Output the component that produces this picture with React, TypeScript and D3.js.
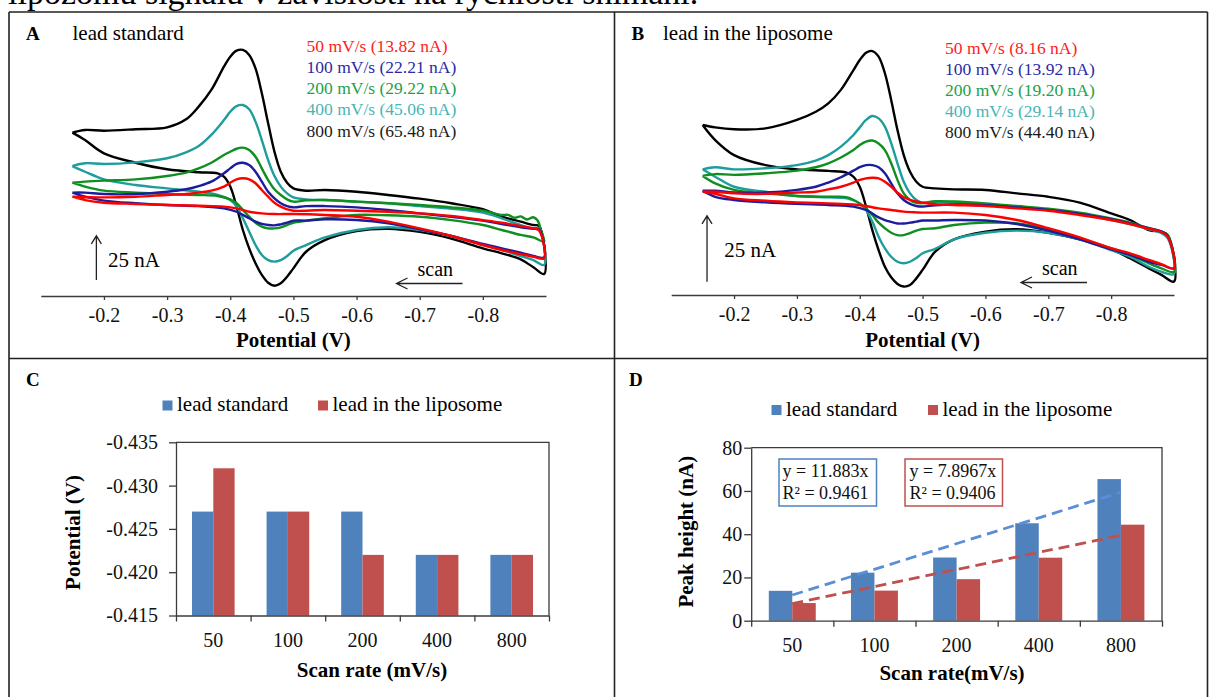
import { useRef, useEffect } from 'react';
import * as d3 from 'd3';

const SERIF = '"Liberation Serif", "Times New Roman", serif';

// scan rates and peak data (panels C and D)
const scanRates = ['50', '100', '200', '400', '800'];
const peakPotentialStd = [-0.427, -0.427, -0.427, -0.422, -0.422];
const peakPotentialLipo = [-0.432, -0.427, -0.422, -0.422, -0.422];
const peakHeightStd = [13.82, 22.21, 29.22, 45.06, 65.48];
const peakHeightLipo = [8.16, 13.92, 19.2, 29.14, 44.4];
const trendSlopes = [11.883, 7.8967];
const trendR2 = [0.9461, 0.9406];
const potentialTicks = [-0.435, -0.43, -0.425, -0.42, -0.415];
const heightTicks = [0, 20, 40, 60, 80];
const cvTicks = [-0.2, -0.3, -0.4, -0.5, -0.6, -0.7, -0.8];

const curveColors = ['#ff0000', '#1c1c9c', '#0f8f1f', '#1f9c9c', '#000000'];
const legendColors = ['#ff2020', '#2a2aa6', '#21a14b', '#49b5b5', '#1a1a1a'];
const barColors = ['#4f81bd', '#c0504d'];

// cyclic voltammograms, [potential V, current nA], lower branch then upper branch
const cvA50 = [[-0.15,56.1],[-0.17,54.2],[-0.2,52.7],[-0.25,52.0],[-0.3,51.4],[-0.35,51.0],[-0.39,50.5],[-0.41,49.5],[-0.42,48.6],[-0.43,47.6],[-0.45,46.7],[-0.47,46.3],[-0.5,46.3],[-0.55,45.8],[-0.6,44.8],[-0.65,42.0],[-0.7,38.2],[-0.75,33.9],[-0.8,28.8],[-0.83,26.0],[-0.86,23.7],[-0.88,22.2],[-0.897,21.3],
  [-0.889,37],[-0.88,38.2],[-0.86,39.5],[-0.83,41.4],[-0.8,42.9],[-0.75,45.2],[-0.7,46.7],[-0.65,47.6],[-0.6,48.2],[-0.55,48.6],[-0.5,48.2],[-0.49,49.0],[-0.48,50.5],[-0.47,52.7],[-0.46,56.1],[-0.45,59.9],[-0.44,63.7],[-0.43,65.9],[-0.42,66.5],[-0.41,65.9],[-0.4,64.0],[-0.39,61.8],[-0.37,59.5],[-0.35,58.4],[-0.33,57.6],[-0.3,57.1],[-0.25,56.1],[-0.2,55.7],[-0.15,56.1]];
const cvA100 = [[-0.15,58.4],[-0.17,56.1],[-0.2,53.9],[-0.25,52.4],[-0.3,51.4],[-0.35,50.8],[-0.39,49.5],[-0.41,47.6],[-0.42,45.8],[-0.43,43.9],[-0.44,42.0],[-0.45,40.7],[-0.46,40.1],[-0.47,39.9],[-0.48,40.5],[-0.49,41.4],[-0.5,42.6],[-0.52,42.6],[-0.55,43.3],[-0.6,42.9],[-0.65,41.1],[-0.7,37.7],[-0.75,33.9],[-0.8,29.4],[-0.83,26.9],[-0.86,24.5],[-0.88,22.6],[-0.897,21.8],
  [-0.889,37.5],[-0.88,38.0],[-0.86,38.8],[-0.83,40.7],[-0.8,42.6],[-0.75,44.8],[-0.7,46.7],[-0.65,48.6],[-0.6,50.1],[-0.55,50.8],[-0.52,50.8],[-0.5,50.1],[-0.49,50.8],[-0.48,52.4],[-0.47,55.2],[-0.46,58.9],[-0.45,64.6],[-0.44,70.2],[-0.43,74.0],[-0.42,75.3],[-0.41,74.6],[-0.4,72.1],[-0.39,69.3],[-0.37,64.6],[-0.35,62.1],[-0.33,60.3],[-0.3,58.9],[-0.25,57.6],[-0.2,57.6],[-0.17,58.4],[-0.15,58.4]];
const cvA200 = [[-0.15,64.0],[-0.17,61.8],[-0.2,59.5],[-0.25,58.4],[-0.3,57.6],[-0.35,57.1],[-0.38,56.5],[-0.4,54.6],[-0.41,52.4],[-0.42,48.6],[-0.43,44.8],[-0.44,41.4],[-0.45,39.2],[-0.46,38.2],[-0.47,38.2],[-0.48,38.8],[-0.49,40.1],[-0.5,41.4],[-0.52,42.5],[-0.55,43.9],[-0.6,45.8],[-0.65,45.6],[-0.7,44.8],[-0.75,42.9],[-0.8,40.1],[-0.83,37.3],[-0.86,34.5],[-0.88,33.1],[-0.897,30.7],
  [-0.892,37],[-0.887,42.5],[-0.88,44.5],[-0.87,43.2],[-0.86,45.0],[-0.85,44.2],[-0.84,45.8],[-0.83,45.8],[-0.8,48.2],[-0.75,50.1],[-0.7,51.4],[-0.65,52.4],[-0.6,53.3],[-0.55,54.2],[-0.52,54.0],[-0.5,53.3],[-0.49,54.6],[-0.48,57.1],[-0.47,60.3],[-0.46,65.5],[-0.45,72.1],[-0.44,78.7],[-0.43,82.5],[-0.42,83.8],[-0.41,83.2],[-0.4,81.5],[-0.39,79.7],[-0.37,75.3],[-0.35,72.1],[-0.33,69.7],[-0.3,67.8],[-0.25,65.9],[-0.2,65.2],[-0.17,64.6],[-0.15,64.0]];
const cvA400 = [[-0.15,73.4],[-0.17,70.2],[-0.2,65.9],[-0.25,62.7],[-0.3,60.8],[-0.35,58.9],[-0.38,57.1],[-0.4,54.2],[-0.41,50.5],[-0.42,43.9],[-0.43,36.3],[-0.44,28.8],[-0.45,23.2],[-0.46,20.3],[-0.47,19.4],[-0.48,20.3],[-0.49,22.6],[-0.5,25.6],[-0.52,28.8],[-0.55,33.1],[-0.6,37.3],[-0.65,38.8],[-0.7,37.3],[-0.75,33.9],[-0.8,28.8],[-0.83,26.0],[-0.86,22.6],[-0.88,20.3],[-0.897,17.5],
  [-0.889,38],[-0.88,38.2],[-0.86,40.1],[-0.83,43.9],[-0.8,47.1],[-0.75,49.3],[-0.7,50.8],[-0.65,52.4],[-0.6,53.3],[-0.55,54.2],[-0.52,54.6],[-0.5,55.7],[-0.49,58.0],[-0.48,61.8],[-0.47,67.8],[-0.46,76.8],[-0.45,88.1],[-0.44,98.5],[-0.43,105.5],[-0.42,107.9],[-0.41,107.3],[-0.4,104.1],[-0.39,99.4],[-0.37,91.0],[-0.35,84.7],[-0.33,81.2],[-0.3,77.8],[-0.25,75.5],[-0.2,74.6],[-0.17,75.0],[-0.15,73.4]];
const cvA800 = [[-0.15,92.3],[-0.17,88.1],[-0.2,80.6],[-0.25,75.3],[-0.3,71.6],[-0.35,69.9],[-0.38,69.3],[-0.39,67.4],[-0.4,61.8],[-0.41,50.5],[-0.42,37.3],[-0.43,26.9],[-0.44,18.5],[-0.45,11.9],[-0.46,7.5],[-0.47,5.8],[-0.48,7.2],[-0.49,10.9],[-0.5,15.6],[-0.52,25.0],[-0.55,31.6],[-0.6,36.7],[-0.65,38.0],[-0.7,36.2],[-0.75,32.4],[-0.8,26.9],[-0.83,24.1],[-0.86,20.7],[-0.88,16.2],[-0.897,12.4],
  [-0.889,39.5],[-0.88,40.1],[-0.86,42.0],[-0.83,44.8],[-0.8,49.0],[-0.75,52.4],[-0.7,55.0],[-0.65,57.1],[-0.6,58.9],[-0.55,59.9],[-0.52,59.5],[-0.5,60.8],[-0.49,64.0],[-0.48,70.2],[-0.47,81.5],[-0.46,97.6],[-0.45,114.5],[-0.44,128.6],[-0.43,136.2],[-0.42,139.0],[-0.41,138.6],[-0.4,135.2],[-0.39,129.6],[-0.37,116.4],[-0.35,107.0],[-0.33,99.8],[-0.3,95.3],[-0.25,94.2],[-0.2,93.4],[-0.17,93.8],[-0.15,92.3]];

const cvB50 = [[-0.15,39.1],[-0.17,38.3],[-0.2,36.6],[-0.25,35.7],[-0.3,35.1],[-0.35,34.7],[-0.39,34.3],[-0.41,33.7],[-0.43,32.8],[-0.45,32.2],[-0.47,31.6],[-0.49,31.3],[-0.5,31.2],[-0.55,31.2],[-0.6,30.3],[-0.65,28.4],[-0.7,25.3],[-0.75,21.8],[-0.8,17.7],[-0.83,15.8],[-0.86,13.3],[-0.88,11.7],[-0.9,10.1],
  [-0.89,22.1],[-0.88,23.9],[-0.86,25.1],[-0.83,26.9],[-0.8,28.4],[-0.75,30.3],[-0.7,31.9],[-0.65,32.8],[-0.6,33.7],[-0.55,34.1],[-0.52,34.4],[-0.5,35.0],[-0.49,35.4],[-0.48,36.0],[-0.47,37.0],[-0.46,38.8],[-0.45,41.0],[-0.44,42.9],[-0.43,44.2],[-0.42,44.4],[-0.41,44.2],[-0.4,43.6],[-0.39,42.6],[-0.37,41.0],[-0.35,40.0],[-0.33,39.1],[-0.3,38.8],[-0.25,38.3],[-0.2,38.5],[-0.17,39.1],[-0.15,39.1]];
const cvB100 = [[-0.15,39.5],[-0.17,37.2],[-0.2,36.0],[-0.25,35.1],[-0.3,34.5],[-0.35,34.1],[-0.39,33.5],[-0.41,32.2],[-0.42,30.9],[-0.43,29.4],[-0.44,28.4],[-0.45,27.7],[-0.46,27.1],[-0.47,27.1],[-0.48,27.4],[-0.49,27.8],[-0.5,28.2],[-0.52,28.2],[-0.55,28.4],[-0.6,28.2],[-0.65,26.9],[-0.7,24.4],[-0.75,21.1],[-0.8,17.3],[-0.83,15.2],[-0.86,12.6],[-0.88,11.4],[-0.9,10.1],
  [-0.89,22.3],[-0.88,24.0],[-0.86,25.3],[-0.83,27.1],[-0.8,28.7],[-0.75,30.7],[-0.7,32.2],[-0.65,33.2],[-0.6,34.0],[-0.55,34.3],[-0.52,34.0],[-0.5,33.5],[-0.49,33.7],[-0.48,34.5],[-0.47,36.0],[-0.46,38.5],[-0.45,42.3],[-0.44,46.1],[-0.43,48.4],[-0.42,49.2],[-0.41,49.2],[-0.4,48.4],[-0.39,47.1],[-0.37,44.6],[-0.35,42.6],[-0.33,41.0],[-0.3,39.8],[-0.25,38.8],[-0.2,38.8],[-0.17,39.5],[-0.15,39.5]];
const cvB200 = [[-0.15,45.1],[-0.17,42.3],[-0.2,39.8],[-0.25,38.5],[-0.3,37.5],[-0.35,37.2],[-0.38,37.0],[-0.4,34.7],[-0.41,32.8],[-0.42,30.3],[-0.43,27.4],[-0.44,25.3],[-0.45,23.6],[-0.46,22.7],[-0.47,22.7],[-0.48,23.4],[-0.49,24.4],[-0.5,25.0],[-0.52,25.3],[-0.55,26.5],[-0.6,27.4],[-0.65,27.1],[-0.7,24.9],[-0.75,21.5],[-0.8,17.7],[-0.83,15.2],[-0.86,12.0],[-0.88,10.1],[-0.9,8.8],
  [-0.89,22.7],[-0.88,24.0],[-0.86,25.3],[-0.83,27.4],[-0.8,29.0],[-0.75,31.2],[-0.7,32.7],[-0.65,33.7],[-0.6,34.7],[-0.55,35.4],[-0.52,35.5],[-0.5,34.8],[-0.49,34.9],[-0.48,36.0],[-0.47,38.5],[-0.46,43.6],[-0.45,49.9],[-0.44,54.9],[-0.43,57.4],[-0.42,58.5],[-0.41,58.1],[-0.4,56.8],[-0.39,54.9],[-0.37,52.1],[-0.35,49.9],[-0.33,48.4],[-0.3,47.1],[-0.25,46.1],[-0.2,45.5],[-0.17,45.8],[-0.15,45.1]];
const cvB400 = [[-0.15,47.6],[-0.17,44.8],[-0.2,41.0],[-0.25,39.1],[-0.3,37.5],[-0.35,37.0],[-0.38,36.6],[-0.4,34.7],[-0.41,32.2],[-0.42,27.8],[-0.43,22.1],[-0.44,17.7],[-0.45,14.5],[-0.46,12.6],[-0.47,12.0],[-0.48,12.6],[-0.49,14.0],[-0.5,15.8],[-0.52,17.5],[-0.55,21.1],[-0.6,23.6],[-0.65,24.4],[-0.7,23.6],[-0.75,21.1],[-0.8,17.0],[-0.83,14.5],[-0.86,10.7],[-0.88,8.8],[-0.9,8.0],
  [-0.89,21.5],[-0.88,23.4],[-0.86,24.9],[-0.83,26.9],[-0.8,28.4],[-0.75,30.7],[-0.7,32.2],[-0.65,33.2],[-0.6,34.3],[-0.55,35.0],[-0.52,35.2],[-0.5,34.9],[-0.49,36.0],[-0.48,38.5],[-0.47,42.9],[-0.46,49.9],[-0.45,57.5],[-0.44,63.8],[-0.43,66.9],[-0.42,67.8],[-0.41,66.3],[-0.4,63.5],[-0.39,60.6],[-0.37,56.2],[-0.35,53.0],[-0.33,50.9],[-0.3,49.2],[-0.25,48.0],[-0.2,47.6],[-0.17,48.4],[-0.15,47.6]];
const cvB800 = [[-0.15,64.4],[-0.17,58.7],[-0.2,53.0],[-0.25,49.2],[-0.3,47.6],[-0.35,47.0],[-0.38,46.3],[-0.39,44.8],[-0.4,41.0],[-0.41,33.5],[-0.42,24.6],[-0.43,17.0],[-0.44,10.7],[-0.45,6.7],[-0.46,4.2],[-0.47,3.2],[-0.48,3.8],[-0.49,6.3],[-0.5,9.5],[-0.52,16.4],[-0.55,21.1],[-0.6,24.0],[-0.65,24.9],[-0.7,23.6],[-0.75,21.1],[-0.8,17.4],[-0.83,13.9],[-0.86,10.1],[-0.88,7.6],[-0.9,5.1],
  [-0.89,22.7],[-0.88,24.0],[-0.86,24.6],[-0.83,28.4],[-0.8,30.9],[-0.75,35.0],[-0.7,37.2],[-0.65,38.5],[-0.6,39.8],[-0.55,40.0],[-0.52,40.4],[-0.5,41.0],[-0.49,42.9],[-0.48,46.7],[-0.47,53.0],[-0.46,62.5],[-0.45,73.9],[-0.44,84.0],[-0.43,90.3],[-0.42,92.4],[-0.41,91.8],[-0.4,89.0],[-0.39,85.2],[-0.37,77.7],[-0.35,72.6],[-0.33,69.4],[-0.3,66.3],[-0.25,63.1],[-0.2,62.8],[-0.17,63.5],[-0.15,64.4]];

const curvesA = [cvA50, cvA100, cvA200, cvA400, cvA800];
const curvesB = [cvB50, cvB100, cvB200, cvB400, cvB800];

function drawCV(svg, cfg) {
  const x = d3.scaleLinear().domain([-0.1, -0.9]).range(cfg.xRange);
  const y = d3.scaleLinear().domain([0, 100]).range([cfg.axisY, cfg.axisY - 100 * cfg.pxPerNA]);
  const g = svg.append('g').attr('font-family', SERIF);

  g.append('text').attr('x', cfg.letterX).attr('y', cfg.titleY)
    .attr('font-size', 19).attr('font-weight', 'bold').text(cfg.letter);
  g.append('text').attr('x', cfg.titleX).attr('y', cfg.titleY)
    .attr('font-size', 21).text(cfg.title);

  // legend with the peak heights
  cfg.peaks.forEach((p, i) => {
    g.append('text').attr('x', cfg.legendX).attr('y', cfg.legendY + i * cfg.legendStep)
      .attr('font-size', 17.5).attr('fill', legendColors[i])
      .text(`${scanRates[i]} mV/s (${p.toFixed(2)} nA)`);
  });

  // axis
  const ax = g.append('g').attr('transform', `translate(0,${cfg.axisY})`)
    .call(d3.axisBottom(x).tickValues(cvTicks).tickSize(4).tickSizeOuter(0).tickFormat(d => d.toFixed(1)));
  ax.attr('font-family', SERIF).attr('font-size', 20);
  ax.selectAll('path,line').attr('stroke', '#3b3b3b').attr('stroke-width', 1.3);
  ax.selectAll('text').attr('y', 12).attr('fill', '#111');
  g.append('text').attr('x', x(-0.5)).attr('y', 347).attr('text-anchor', 'middle')
    .attr('font-size', 21).attr('font-weight', 'bold').text('Potential (V)');

  // curves
  const line = d3.line().x(d => x(d[0])).y(d => y(d[1])).curve(d3.curveCatmullRom.alpha(0.5));
  [4, 3, 2, 1, 0].forEach(i => {
    g.append('path').attr('d', line(cfg.curves[i])).attr('fill', 'none')
      .attr('stroke', curveColors[i]).attr('stroke-width', 2.4).attr('stroke-linejoin', 'round');
  });

  // 25 nA scale arrow
  const axX = x(cfg.arrowE), yb = y(cfg.arrowFrom), yt = y(cfg.arrowFrom + 25);
  g.append('path').attr('d', `M${axX},${yb}V${yt}M${axX - 5},${yt + 8}L${axX},${yt}L${axX + 5},${yt + 8}`)
    .attr('fill', 'none').attr('stroke', '#222').attr('stroke-width', 1.3);
  g.append('text').attr('x', cfg.nAX).attr('y', cfg.nAY).attr('font-size', 21).text('25 nA');

  // scan direction
  g.append('text').attr('x', cfg.scanX).attr('y', cfg.scanY).attr('font-size', 20).text('scan');
  const sy = cfg.scanY + 7.5, sx0 = cfg.scanX - 21, sx1 = cfg.scanX + 45;
  g.append('path').attr('d', `M${sx1},${sy}H${sx0}M${sx0 + 11},${sy - 5.5}L${sx0},${sy}L${sx0 + 11},${sy + 5.5}`)
    .attr('fill', 'none').attr('stroke', '#222').attr('stroke-width', 1.3);
}

function drawBars(svg, cfg) {
  const g = svg.append('g').attr('font-family', SERIF);
  const x = d3.scaleBand().domain(scanRates).range([cfg.x0, cfg.x1]);
  const inner = d3.scaleBand().domain(['std', 'lipo']).range([0, x.bandwidth()]).paddingOuter(0.75);
  const y = d3.scaleLinear().domain(cfg.domain).range([cfg.y0, cfg.y1]);

  g.append('text').attr('x', cfg.letterX).attr('y', 385.5)
    .attr('font-size', 19).attr('font-weight', 'bold').text(cfg.letter);

  // legend
  ['lead standard', 'lead in the liposome'].forEach((t, i) => {
    g.append('rect').attr('x', cfg.legendSq[i]).attr('y', cfg.legendY - 10.5)
      .attr('width', 10).attr('height', 10).attr('fill', barColors[i]);
    g.append('text').attr('x', cfg.legendSq[i] + 14.5).attr('y', cfg.legendY)
      .attr('font-size', 21).text(t);
  });

  // bars
  [cfg.std, cfg.lipo].forEach((vals, s) => {
    g.selectAll(null).data(vals).enter().append('rect')
      .attr('x', (d, i) => x(scanRates[i]) + inner(s === 0 ? 'std' : 'lipo'))
      .attr('y', d => y(d))
      .attr('width', inner.bandwidth())
      .attr('height', d => y(cfg.domain[0]) - y(d))
      .attr('fill', barColors[s]);
  });

  // frame
  g.append('path').attr('d', `M${cfg.x0},${cfg.y1}H${cfg.x1}V${cfg.y0}`)
    .attr('fill', 'none').attr('stroke', '#3b3b3b').attr('stroke-width', 1.3);

  const ya = g.append('g').attr('transform', `translate(${cfg.x0},0)`)
    .call(d3.axisLeft(y).tickValues(cfg.ticks).tickSize(7).tickSizeOuter(0).tickFormat(cfg.fmt));
  ya.attr('font-family', SERIF).attr('font-size', 20);
  ya.selectAll('path,line').attr('stroke', '#3b3b3b').attr('stroke-width', 1.3);
  ya.selectAll('text').attr('x', cfg.labelX).attr('fill', '#111');

  const edges = d3.scaleLinear().domain([0, 5]).range([cfg.x0, cfg.x1]);
  const xa = g.append('g').attr('transform', `translate(0,${cfg.y0})`)
    .call(d3.axisBottom(edges).tickValues(d3.range(6)).tickSize(6).tickSizeOuter(0).tickFormat(() => ''));
  xa.selectAll('path,line').attr('stroke', '#3b3b3b').attr('stroke-width', 1.3);
  scanRates.forEach(r => {
    g.append('text').attr('x', x(r) + x.bandwidth() / 2).attr('y', cfg.y0 + 31.5)
      .attr('text-anchor', 'middle').attr('font-size', 20).attr('fill', '#111').text(r);
  });

  g.append('text').attr('x', cfg.xLabelX).attr('y', cfg.xLabelY).attr('text-anchor', 'middle')
    .attr('font-size', 21).attr('font-weight', 'bold').text(cfg.xLabel);
  g.append('text').attr('transform', `translate(${cfg.yLabelX},${cfg.yLabelY}) rotate(-90)`)
    .attr('text-anchor', 'middle').attr('font-size', 21).attr('font-weight', 'bold').text(cfg.yLabel);

  return { g, x, y };
}

function App() {
  const svgRef = useRef(null);

  useEffect(() => {
    const svg = d3.select(svgRef.current);
    svg.selectAll('*').remove();

    svg.append('text').attr('x', 8).attr('y', 3.5).attr('font-family', SERIF)
      .attr('font-size', 34).text('lipozómu signálu v závislosti na rychlosti snímání.');

    // table grid
    svg.append('path')
      .attr('d', 'M9,12H1207.5M9,358.5H1207.5M9,12V697M614.5,12V697M1207.5,12V697')
      .attr('fill', 'none').attr('stroke', '#222').attr('stroke-width', 1.6);

    drawCV(svg, {
      xRange: [40.8, 546], axisY: 296, pxPerNA: 1.77, curves: curvesA,
      letter: 'A', letterX: 26, title: 'lead standard', titleX: 72.5, titleY: 40,
      peaks: peakHeightStd, legendX: 306.5, legendY: 51.5, legendStep: 21.3,
      arrowE: -0.188, arrowFrom: 9, nAX: 108, nAY: 266.5, scanX: 417.5, scanY: 276
    });
    drawCV(svg, {
      xRange: [671.2, 1174], axisY: 295, pxPerNA: 2.64, curves: curvesB,
      letter: 'B', letterX: 631.5, title: 'lead in the liposome', titleX: 663, titleY: 39.5,
      peaks: peakHeightLipo, legendX: 945, legendY: 53.5, legendStep: 21.2,
      arrowE: -0.157, arrowFrom: 5, nAX: 724.3, nAY: 257, scanX: 1042, scanY: 275
    });

    drawBars(svg, {
      letter: 'C', letterX: 26, x0: 176, x1: 549, y0: 615.5, y1: 442.3,
      domain: [-0.415, -0.435], ticks: potentialTicks, fmt: d => d.toFixed(3), labelX: -18,
      std: peakPotentialStd, lipo: peakPotentialLipo,
      legendSq: [162.5, 318], legendY: 411,
      xLabel: 'Scan rate (mV/s)', xLabelX: 372, xLabelY: 677,
      yLabel: 'Potential (V)', yLabelX: 79.5, yLabelY: 532.5
    });

    const d = drawBars(svg, {
      letter: 'D', letterX: 629, x0: 751.2, x1: 1162, y0: 620.7, y1: 447.7,
      domain: [0, 80], ticks: heightTicks, fmt: v => String(v), labelX: -9,
      std: peakHeightStd, lipo: peakHeightLipo,
      legendSq: [771.5, 928], legendY: 415.5,
      xLabel: 'Scan rate(mV/s)', xLabelX: 952, xLabelY: 680,
      yLabel: 'Peak height (nA)', yLabelX: 692.5, yLabelY: 531.7
    });

    // linear trendlines through the origin (y = slope * category index)
    const trend = d3.line()
      .x(p => d.x(scanRates[p[0] - 1]) + d.x.bandwidth() / 2)
      .y(p => d.y(p[1]));
    const trendColors = ['#5a8ed6', '#c0504d'];
    trendSlopes.forEach((s, i) => {
      const pts = [[1, s], [5, s * 5]];
      d.g.append('path').attr('d', trend(pts)).attr('fill', 'none')
        .attr('stroke', trendColors[i]).attr('stroke-width', 2.8).attr('stroke-dasharray', '11,6');
    });

    // equation boxes
    const boxes = [{ x: 779, tx: 782.5 }, { x: 905, tx: 909.5 }];
    trendSlopes.forEach((s, i) => {
      d.g.append('rect').attr('x', boxes[i].x).attr('y', 459).attr('width', 97.5).attr('height', 47)
        .attr('fill', 'white').attr('stroke', i === 0 ? '#4f81bd' : '#c0504d').attr('stroke-width', 1.5);
      d.g.append('text').attr('x', boxes[i].tx).attr('y', 477).attr('font-size', 18).attr('fill', '#111')
        .text(`y = ${s}x`);
      d.g.append('text').attr('x', boxes[i].tx).attr('y', 498.5).attr('font-size', 18).attr('fill', '#111')
        .text(`R² = ${trendR2[i]}`);
    });
  }, []);

  return (
    <svg ref={svgRef} width={1209} height={697}
      style={{ position: 'absolute', left: 0, top: 0, background: '#fff' }} />
  );
}

export default App;
